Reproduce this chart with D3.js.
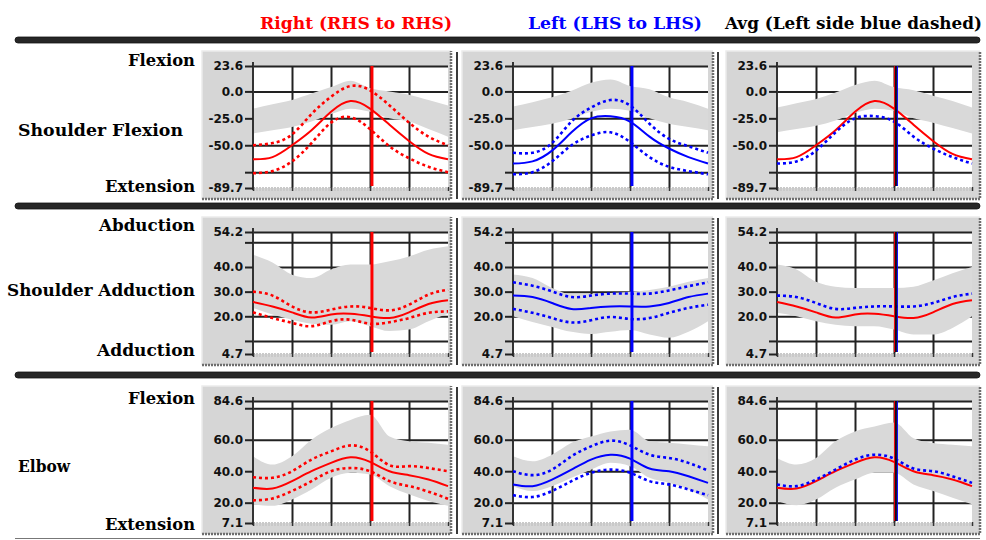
<!DOCTYPE html>
<html>
<head>
<meta charset="utf-8">
<script src="https://cdn.jsdelivr.net/npm/d3@7"></script>
<style>
  body { margin: 0; background: #fff; }
  svg { display: block; }
</style>
</head>
<body>
<script>
const width = 986;
const height = 540;

// % of cycle, shared x for every series
const pct = [0, 10, 20, 30, 40, 50, 60, 70, 80, 90, 100];
const eventPct = 61;

// Shoulder flexion (deg)
const shFlexRight   = [-63, -61, -50, -36, -19, -9, -16, -31, -46, -58, -63];
const shFlexRightHi = [-50, -48, -40, -21, -5, 5, 1, -13, -29, -42, -50];
const shFlexRightLo = [-76, -74, -65, -48, -29, -24, -35, -51, -62, -70, -75];
const shFlexLeft    = [-67, -65, -55, -38, -25, -23, -28, -42, -53, -61, -67];
const shFlexLeftHi  = [-57, -57, -48, -28, -15, -8, -13, -30, -44, -51, -57];
const shFlexLeftLo  = [-77, -75, -65, -50, -41, -38, -47, -61, -70, -74, -77];
const shFlexNormRHi = [-16, -12, -8, -2, 4, 10, 3, 0, -3, -8, -13];
const shFlexNormRLo = [-39, -36, -33, -28, -21, -16, -19, -25, -28, -35, -42];
const shFlexNormLHi = [-14, -10, -5.5, 0.6, 8, 11, 5, 2, -5.5, -10, -16];
const shFlexNormLLo = [-36, -33, -30, -25.5, -19, -16, -18, -25, -30, -33, -36];
const shFlexNormAHi = [-15, -11, -7, -1, 6, 10, 4, 1, -4, -9, -15];
const shFlexNormALo = [-38, -35, -32, -27, -20, -16, -18, -25, -29, -34, -39];

// Shoulder adduction (deg)
const shAddRight   = [25.8, 24, 21.6, 19.5, 20.7, 21, 20, 19.3, 21.6, 25, 26.5];
const shAddRightHi = [30, 28.4, 24, 21.6, 22.7, 24, 23.4, 22.4, 24.7, 28.8, 30.8];
const shAddRightLo = [21.6, 19.3, 17.3, 16, 18, 18.6, 17, 17.6, 19.3, 21.4, 22];
const shAddLeft    = [28.4, 27.8, 25.4, 23, 23.4, 24, 24, 24, 25.4, 27.8, 29.2];
const shAddLeftHi  = [33.8, 32.4, 30.1, 27.8, 28.4, 29.2, 29.2, 29.2, 30.5, 32.2, 33.8];
const shAddLeftLo  = [23, 21.4, 19.3, 17.5, 18.4, 19.7, 18.9, 19.3, 21.4, 23.4, 24.7];
const shAddNormRHi = [45, 41.8, 36.9, 35.5, 39, 41, 41, 42.3, 44.3, 47, 48.4];
const shAddNormRLo = [23.4, 20.7, 18.6, 17, 16.6, 18, 16, 14, 14.6, 18, 21];
const shAddNormLHi = [37, 35.5, 31.5, 29, 29, 29.5, 30, 30.7, 32, 34, 35.5];
const shAddNormLLo = [20, 17.7, 15.7, 13.7, 12.8, 13.7, 14.4, 12.6, 11.3, 13.7, 18];
const shAddNormAHi = [41, 39, 34, 32, 31.5, 31.5, 31.5, 32, 34.5, 37.5, 40];
const shAddNormALo = [21.4, 20, 18, 16.6, 16, 16, 14.6, 12.6, 12.6, 15.3, 20];

// Elbow flexion (deg)
const elbowRight   = [29.5, 29, 33.7, 40, 45.3, 48.8, 45.9, 40, 37.5, 34.7, 30.5];
const elbowRightHi = [36.2, 35.8, 40, 47.4, 52.6, 56.4, 52.6, 43.8, 43.2, 42, 40];
const elbowRightLo = [21.5, 22.7, 27.4, 33.7, 40, 42, 40, 33.7, 30.5, 27, 22.5];
const elbowLeft    = [31.6, 30.5, 34.7, 41, 47.4, 50.5, 48, 41.7, 40, 36.8, 32.6];
const elbowLeftHi  = [40, 37.5, 41, 49.5, 55.8, 59.4, 56.4, 50.5, 48.4, 45.3, 40.4];
const elbowLeftLo  = [24.8, 23.6, 27.4, 33.7, 39, 41, 39, 33.7, 31.6, 28.4, 24.8];
const elbowNormRHi = [49.5, 44.2, 49.5, 60, 67.4, 72.6, 75.8, 62, 59, 58, 56.8];
const elbowNormRLo = [19, 18, 22, 28.4, 35.8, 39, 37.9, 30.5, 25.3, 21, 18];
const elbowNormLHi = [49.5, 46.3, 50.5, 58, 62, 65.3, 66.3, 59, 58, 57, 55.8];
const elbowNormLLo = [30.5, 27.4, 30.5, 35.8, 41, 45.3, 43.2, 35.8, 32.6, 28.4, 22];
const elbowNormAHi = [48.4, 44.2, 48.4, 59, 65.3, 68.4, 71, 61, 57.9, 56.8, 55.8];
const elbowNormALo = [21, 18.3, 22, 29.5, 34.7, 39, 39, 31.6, 27.4, 23.2, 19];

// axis ticks per row (unlabelled ones are too close to the extremes)
const shFlexTicks  = [23.6, 0, -25, -50, -75, -89.7];
const shFlexLabels = [23.6, 0, -25, -50, -89.7];
const shAddTicks   = [54.2, 50, 40, 30, 20, 10, 4.7];
const shAddLabels  = [54.2, 40, 30, 20, 4.7];
const elbowTicks   = [84.6, 80, 60, 40, 20, 7.1];
const elbowLabels  = [84.6, 60, 40, 20, 7.1];

const headers = ["Right (RHS to RHS)", "Left (LHS to LHS)", "Avg (Left side blue dashed)"];
const rowNames = ["Shoulder Flexion", "Shoulder Adduction", "Elbow"];
const rowTop = ["Flexion", "Abduction", "Flexion"];
const rowBottom = ["Extension", "Adduction", "Extension"];

const RED = "#ff0000", BLUE = "#0000ff";

const rows = [
  { ticks: shFlexTicks, labels: shFlexLabels,
    right: [shFlexRight, shFlexRightHi, shFlexRightLo],
    left: [shFlexLeft, shFlexLeftHi, shFlexLeftLo],
    norm: [[shFlexNormRHi, shFlexNormRLo], [shFlexNormLHi, shFlexNormLLo], [shFlexNormAHi, shFlexNormALo]] },
  { ticks: shAddTicks, labels: shAddLabels,
    right: [shAddRight, shAddRightHi, shAddRightLo],
    left: [shAddLeft, shAddLeftHi, shAddLeftLo],
    norm: [[shAddNormRHi, shAddNormRLo], [shAddNormLHi, shAddNormLLo], [shAddNormAHi, shAddNormALo]] },
  { ticks: elbowTicks, labels: elbowLabels,
    right: [elbowRight, elbowRightHi, elbowRightLo],
    left: [elbowLeft, elbowLeftHi, elbowLeftLo],
    norm: [[elbowNormRHi, elbowNormRLo], [elbowNormLHi, elbowNormLLo], [elbowNormAHi, elbowNormALo]] }
];

// layout
const colX = [202, 462, 726];
const colW = [249, 251, 254];
const rowY = [51, 217, 386];
const panelH = 148;
const barY = [40, 206, 375];
const cellLineX = [457, 718];

const svg = d3.select("body").append("svg")
  .attr("width", width)
  .attr("height", height);

const serif = "'DejaVu Serif', 'Liberation Serif', serif";
const sans = "'DejaVu Sans', Arial, sans-serif";

// bold serif text, stretched to the width it takes in the original
function label(x, y, str, w, anchor, color) {
  return svg.append("text")
    .attr("x", x).attr("y", y)
    .attr("text-anchor", anchor)
    .attr("font-family", serif).attr("font-weight", "bold")
    .attr("font-size", 16.5)
    .attr("fill", color || "#000")
    .attr("textLength", w).attr("lengthAdjust", "spacingAndGlyphs")
    .text(str);
}

// column headers
const headerX = [260, 528, 725];
const headerW = [192, 174, 257];
const headerColor = [RED, BLUE, "#000"];
headers.forEach(function(h, i) {
  label(headerX[i], 29, h, headerW[i], "start", headerColor[i]);
});

// thick separator bars
barY.forEach(function(y) {
  svg.append("rect")
    .attr("x", 15).attr("y", y - 3)
    .attr("width", 965).attr("height", 6)
    .attr("rx", 3)
    .attr("fill", "#262626")
    .attr("stroke", "#111").attr("stroke-width", 0.8);
});
// thin rule along the bottom
svg.append("line")
  .attr("x1", 15).attr("x2", 980).attr("y1", 538.5).attr("y2", 538.5)
  .attr("stroke", "#777").attr("stroke-width", 1);

// row labels
const rowNameX = [18, 7, 18];
const rowNameW = [165, 188, 52];
const rowNameY = [136, 296, 472];
const rowTopY = [66, 231, 404];
const rowTopW = [67, 96, 67];
const rowBottomY = [192, 356, 530];
const rowBottomW = [90, 98, 90];
rows.forEach(function(r, i) {
  label(195, rowTopY[i], rowTop[i], rowTopW[i], "end");
  label(rowNameX[i], rowNameY[i], rowNames[i], rowNameW[i], "start");
  label(195, rowBottomY[i], rowBottom[i], rowBottomW[i], "end");
  // cell dividers between the columns
  cellLineX.forEach(function(cx) {
    svg.append("line")
      .attr("x1", cx).attr("x2", cx)
      .attr("y1", rowY[i] + 1).attr("y2", rowY[i] + panelH)
      .attr("stroke", "#3a3a3a").attr("stroke-width", 2);
  });
});

function drawPanel(r, ri, ci) {
  const px = colX[ci], py = rowY[ri];
  const x0 = px + 51, x1 = x0 + 195;
  const yTop = py + 15, yBot = yTop + 122;

  const x = d3.scaleLinear().domain([0, 100]).range([x0, x1]);
  const ext = d3.extent(r.ticks);
  const y = d3.scaleLinear().domain(ext).range([yBot, yTop]);

  const g = svg.append("g");

  // panel background + bevel
  g.append("rect").attr("x", px).attr("y", py)
    .attr("width", colW[ci]).attr("height", panelH)
    .attr("fill", "#d6d6d6");
  g.append("path")
    .attr("d", `M${px},${py + panelH}V${py}H${px + colW[ci]}`)
    .attr("fill", "none").attr("stroke", "#ececec").attr("stroke-width", 1.5);
  g.append("path")
    .attr("d", `M${px},${py + panelH}H${px + colW[ci]}V${py}`)
    .attr("fill", "none").attr("stroke", "#6e6e6e").attr("stroke-width", 2.5)
    .attr("stroke-dasharray", "2,1");

  // white plot area
  g.append("rect").attr("x", x0).attr("y", yTop)
    .attr("width", x1 - x0).attr("height", yBot - yTop)
    .attr("fill", "#fff");

  // horizontal grid
  g.append("g")
    .attr("transform", `translate(${x0},0)`)
    .call(d3.axisLeft(y).tickValues(r.ticks.filter(v => v !== ext[0]))
      .tickSize(-(x1 - x0)).tickFormat(""))
    .call(s => s.select(".domain").remove())
    .call(s => s.selectAll("line").attr("stroke", "#222").attr("stroke-width", 2));

  // vertical grid
  g.append("g")
    .attr("transform", `translate(0,${yBot})`)
    .call(d3.axisBottom(x).tickValues([20, 40, 60, 80])
      .tickSize(-(yBot - yTop)).tickFormat(""))
    .call(s => s.select(".domain").remove())
    .call(s => s.selectAll("line").attr("stroke", "#222").attr("stroke-width", 2));

  // normal range band (drawn over the grid)
  const hi = r.norm[ci][0], lo = r.norm[ci][1];
  const band = d3.area()
    .x((d, i) => x(pct[i]))
    .y0((d, i) => y(lo[i]))
    .y1((d, i) => y(hi[i]))
    .curve(d3.curveMonotoneX);
  g.append("path").datum(pct)
    .attr("d", band)
    .attr("fill", "#d9d9d9");

  // bottom strip with x ticks
  g.append("line")
    .attr("x1", x0).attr("x2", x1).attr("y1", yBot + 1).attr("y2", yBot + 1)
    .attr("stroke", "#c9c9c9").attr("stroke-width", 4)
    .attr("stroke-dasharray", "2,1");
  g.append("g")
    .attr("transform", `translate(0,${yBot - 1})`)
    .call(d3.axisBottom(x).tickValues([0, 20, 40, 60, 80, 100]).tickSize(4).tickFormat(""))
    .call(s => s.select(".domain").remove())
    .call(s => s.selectAll("line").attr("stroke", "#333").attr("stroke-width", 1.5));

  // y axis
  g.append("g")
    .attr("transform", `translate(${x0},0)`)
    .call(d3.axisLeft(y).tickValues(r.ticks).tickSize(8)
      .tickFormat(v => r.labels.includes(v) ? v.toFixed(1) : ""))
    .call(s => s.select(".domain").attr("stroke", "#333").attr("stroke-width", 2)
      .attr("d", `M0,${yTop - 4}V${yBot + 2}`))
    .call(s => s.selectAll("line").attr("stroke", "#222").attr("stroke-width", 2))
    .call(s => s.selectAll("text")
      .attr("font-family", sans).attr("font-weight", "bold")
      .attr("font-size", 12).attr("fill", "#111").attr("x", -10));

  const line = vals => d3.line()
    .x((d, i) => x(pct[i]))
    .y((d, i) => y(vals[i]))
    .curve(d3.curveNatural)(pct);

  function series(vals, color, dotted) {
    g.append("path")
      .attr("d", line(vals))
      .attr("fill", "none")
      .attr("stroke", color)
      .attr("stroke-width", dotted ? 2.6 : 2)
      .attr("stroke-dasharray", dotted ? "3,3" : null);
  }

  if (ci === 0) {
    series(r.right[1], RED, true);
    series(r.right[2], RED, true);
    series(r.right[0], RED, false);
  } else if (ci === 1) {
    series(r.left[1], BLUE, true);
    series(r.left[2], BLUE, true);
    series(r.left[0], BLUE, false);
  } else {
    series(r.right[0], RED, false);
    series(r.left[0], BLUE, true);
  }

  // event marker
  const ex = x(eventPct);
  const ev = (dx, color, w) => g.append("line")
    .attr("x1", ex + dx).attr("x2", ex + dx)
    .attr("y1", yTop).attr("y2", yBot - 2)
    .attr("stroke", color).attr("stroke-width", w);
  if (ci === 0) ev(0, RED, 3);
  else if (ci === 1) ev(0, BLUE, 3);
  else { ev(-1.5, RED, 1); ev(0, "#14081c", 2); ev(1.5, BLUE, 1); }
}

rows.forEach(function(r, ri) {
  [0, 1, 2].forEach(ci => drawPanel(r, ri, ci));
});
</script>
</body>
</html>
